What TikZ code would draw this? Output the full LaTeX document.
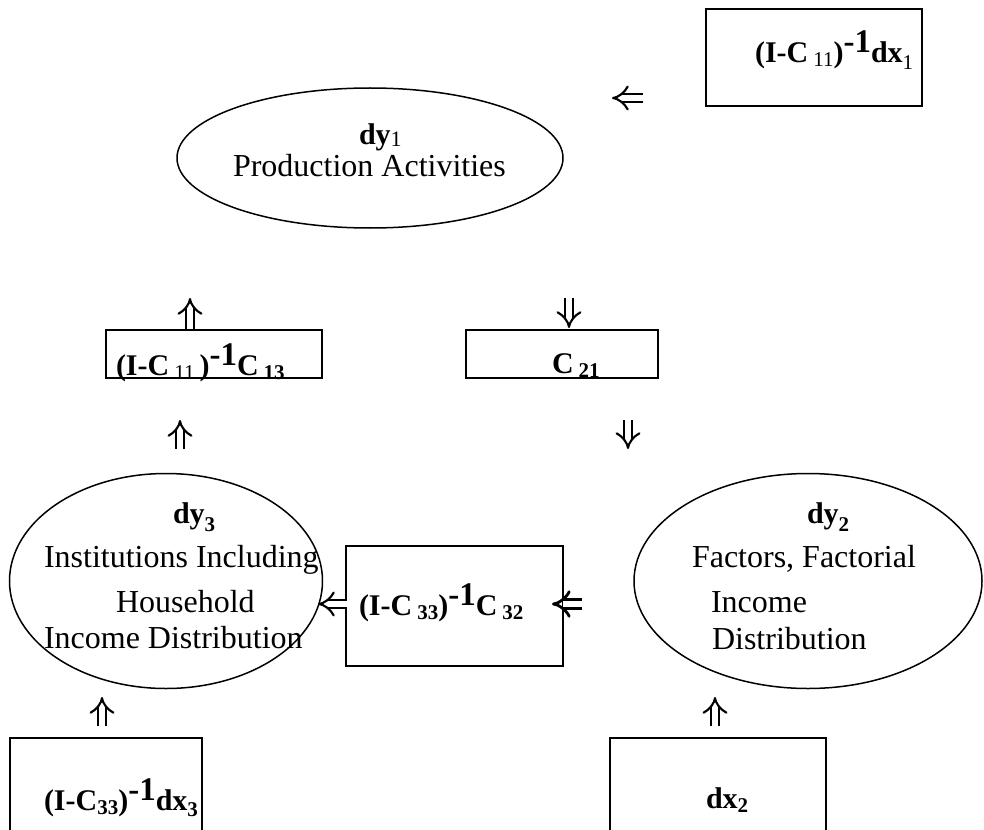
\documentclass[tikz,border=0pt]{standalone}
\usepackage{fontspec}
\setmainfont{Liberation Serif}
\usetikzlibrary{shapes.geometric,arrows.meta}
\newcommand\bt{\fontsize{30}{30}\selectfont\bfseries}
\newcommand\rtx{\fontsize{32}{32}\selectfont\mdseries}
\newcommand\sbb[1]{\raisebox{-4pt}{\fontsize{21}{21}\selectfont\bfseries #1}}
\newcommand\sbr[1]{\raisebox{-4pt}{\fontsize{21}{21}\selectfont\mdseries #1}}
\newcommand\spb[1]{\raisebox{10pt}{\fontsize{33}{33}\selectfont\bfseries #1}}
\begin{document}
\begin{tikzpicture}[x=1pt,y=-1pt,
  boxnode/.style={draw, line width=1.8pt, rectangle, inner sep=0pt, outer sep=0pt},
  ovalnode/.style={draw, line width=1.5pt, ellipse, inner sep=0pt, outer sep=0pt},
  lbl/.style={anchor=base west, inner sep=0pt, outer sep=0pt},
  dbl/.style={double, double distance=6.5pt, line width=2.1pt, -{Implies[length=9pt,width=17pt]}},
  dblbig/.style={double, double distance=6.5pt, line width=2.8pt, -{Implies[length=9pt,width=17pt]}},
]
\useasboundingbox (0,0) rectangle (984,829);
\clip (0,0) rectangle (984,829);

% ellipses
\node[ovalnode, minimum width=386pt, minimum height=140pt] (E1) at (370,158) {};
\node[ovalnode, minimum width=313pt, minimum height=215pt] (E3) at (166,581) {};
\node[ovalnode, minimum width=348pt, minimum height=215pt] (E2) at (808,581) {};

% boxes
\node[boxnode, minimum width=216pt, minimum height=97pt]  (B1) at (814,57.5) {};
\node[boxnode, minimum width=216pt, minimum height=48pt]  (B2) at (214,354) {};
\node[boxnode, minimum width=192pt, minimum height=48pt]  (B3) at (562,354) {};
\node[boxnode, minimum width=217pt, minimum height=120pt] (B4) at (454.5,606) {};
\node[boxnode, minimum width=192pt, minimum height=132pt] (B5) at (106,804) {};
\node[boxnode, minimum width=216pt, minimum height=132pt] (B6) at (718,804) {};

% ellipse texts
\node[lbl] (D1) at (359,145) {\fontsize{30}{30}\selectfont\bfseries dy\raisebox{-2pt}{\fontsize{22}{22}\selectfont\mdseries 1}};
\node[lbl] (P1) at (233,177) {\rtx Production Activities};
\node[lbl] (D3) at (173,523) {\fontsize{30}{30}\selectfont\bfseries dy\raisebox{-8pt}{\fontsize{21}{21}\selectfont 3}};
\node[lbl] (L31) at (44,567) {\rtx Institutions Including};
\node[lbl] (L32) at (116,612) {\rtx Household};
\node[lbl] (L33) at (44,648) {\rtx Income Distribution};
\node[lbl] (D2) at (807,523) {\fontsize{30}{30}\selectfont\bfseries dy\raisebox{-8pt}{\fontsize{21}{21}\selectfont 2}};
\node[lbl] (L21) at (692,567) {\rtx Factors, Factorial};
\node[lbl] (L22) at (711,612) {\rtx Income};
\node[lbl] (L23) at (712,649) {\rtx Distribution};

% box texts
\node[lbl] (T1) at (755,63) {\bt (I-C\,\sbr{11})\spb{-1}dx\raisebox{-7pt}{\fontsize{21}{21}\selectfont\mdseries 1}};
\node[lbl] (T2) at (116,375) {\bt (I-C\,\sbr{11}\,)\spb{-1}C\,\sbb{13}};
\node[lbl] (T3) at (552,373) {\bt C\,\sbb{21}};
\node[lbl] (T4) at (359,615) {\bt (I-C\,\sbb{33})\spb{-1}C\,\sbb{32}};
\node[lbl] (T5) at (44,810) {\bt (I-C\sbb{33})\spb{-1}dx\raisebox{-6pt}{\fontsize{21}{21}\selectfont 3}};
\node[lbl] (T6) at (706,808) {\bt dx\sbb{2}};

% arrow end points
\coordinate (a1s) at (643,98);  \coordinate (a1e) at (612,98);
\coordinate (a2s) at (190,329); \coordinate (a2e) at (190,298);
\coordinate (a3s) at (569,298); \coordinate (a3e) at (569,328);
\coordinate (a4s) at (180,449); \coordinate (a4e) at (180,420);
\coordinate (a5s) at (628,420); \coordinate (a5e) at (628,449);
\coordinate (a6s) at (347,604); \coordinate (a6e) at (318,604);
\coordinate (a7s) at (582,604); \coordinate (a7e) at (552,604);
\coordinate (a8s) at (102,726); \coordinate (a8e) at (102,697);
\coordinate (a9s) at (715,726); \coordinate (a9e) at (715,697);

\draw[dbl] (a1s) -- (a1e);
\draw[dbl] (a2s) -- (a2e);
\draw[dbl] (a3s) -- (a3e);
\draw[dbl] (a4s) -- (a4e);
\draw[dbl] (a5s) -- (a5e);
\draw[dbl] (a6s) -- (a6e);
\draw[dblbig] (a7s) -- (a7e);
\draw[dbl] (a8s) -- (a8e);
\draw[dbl] (a9s) -- (a9e);
\end{tikzpicture}
\end{document}
